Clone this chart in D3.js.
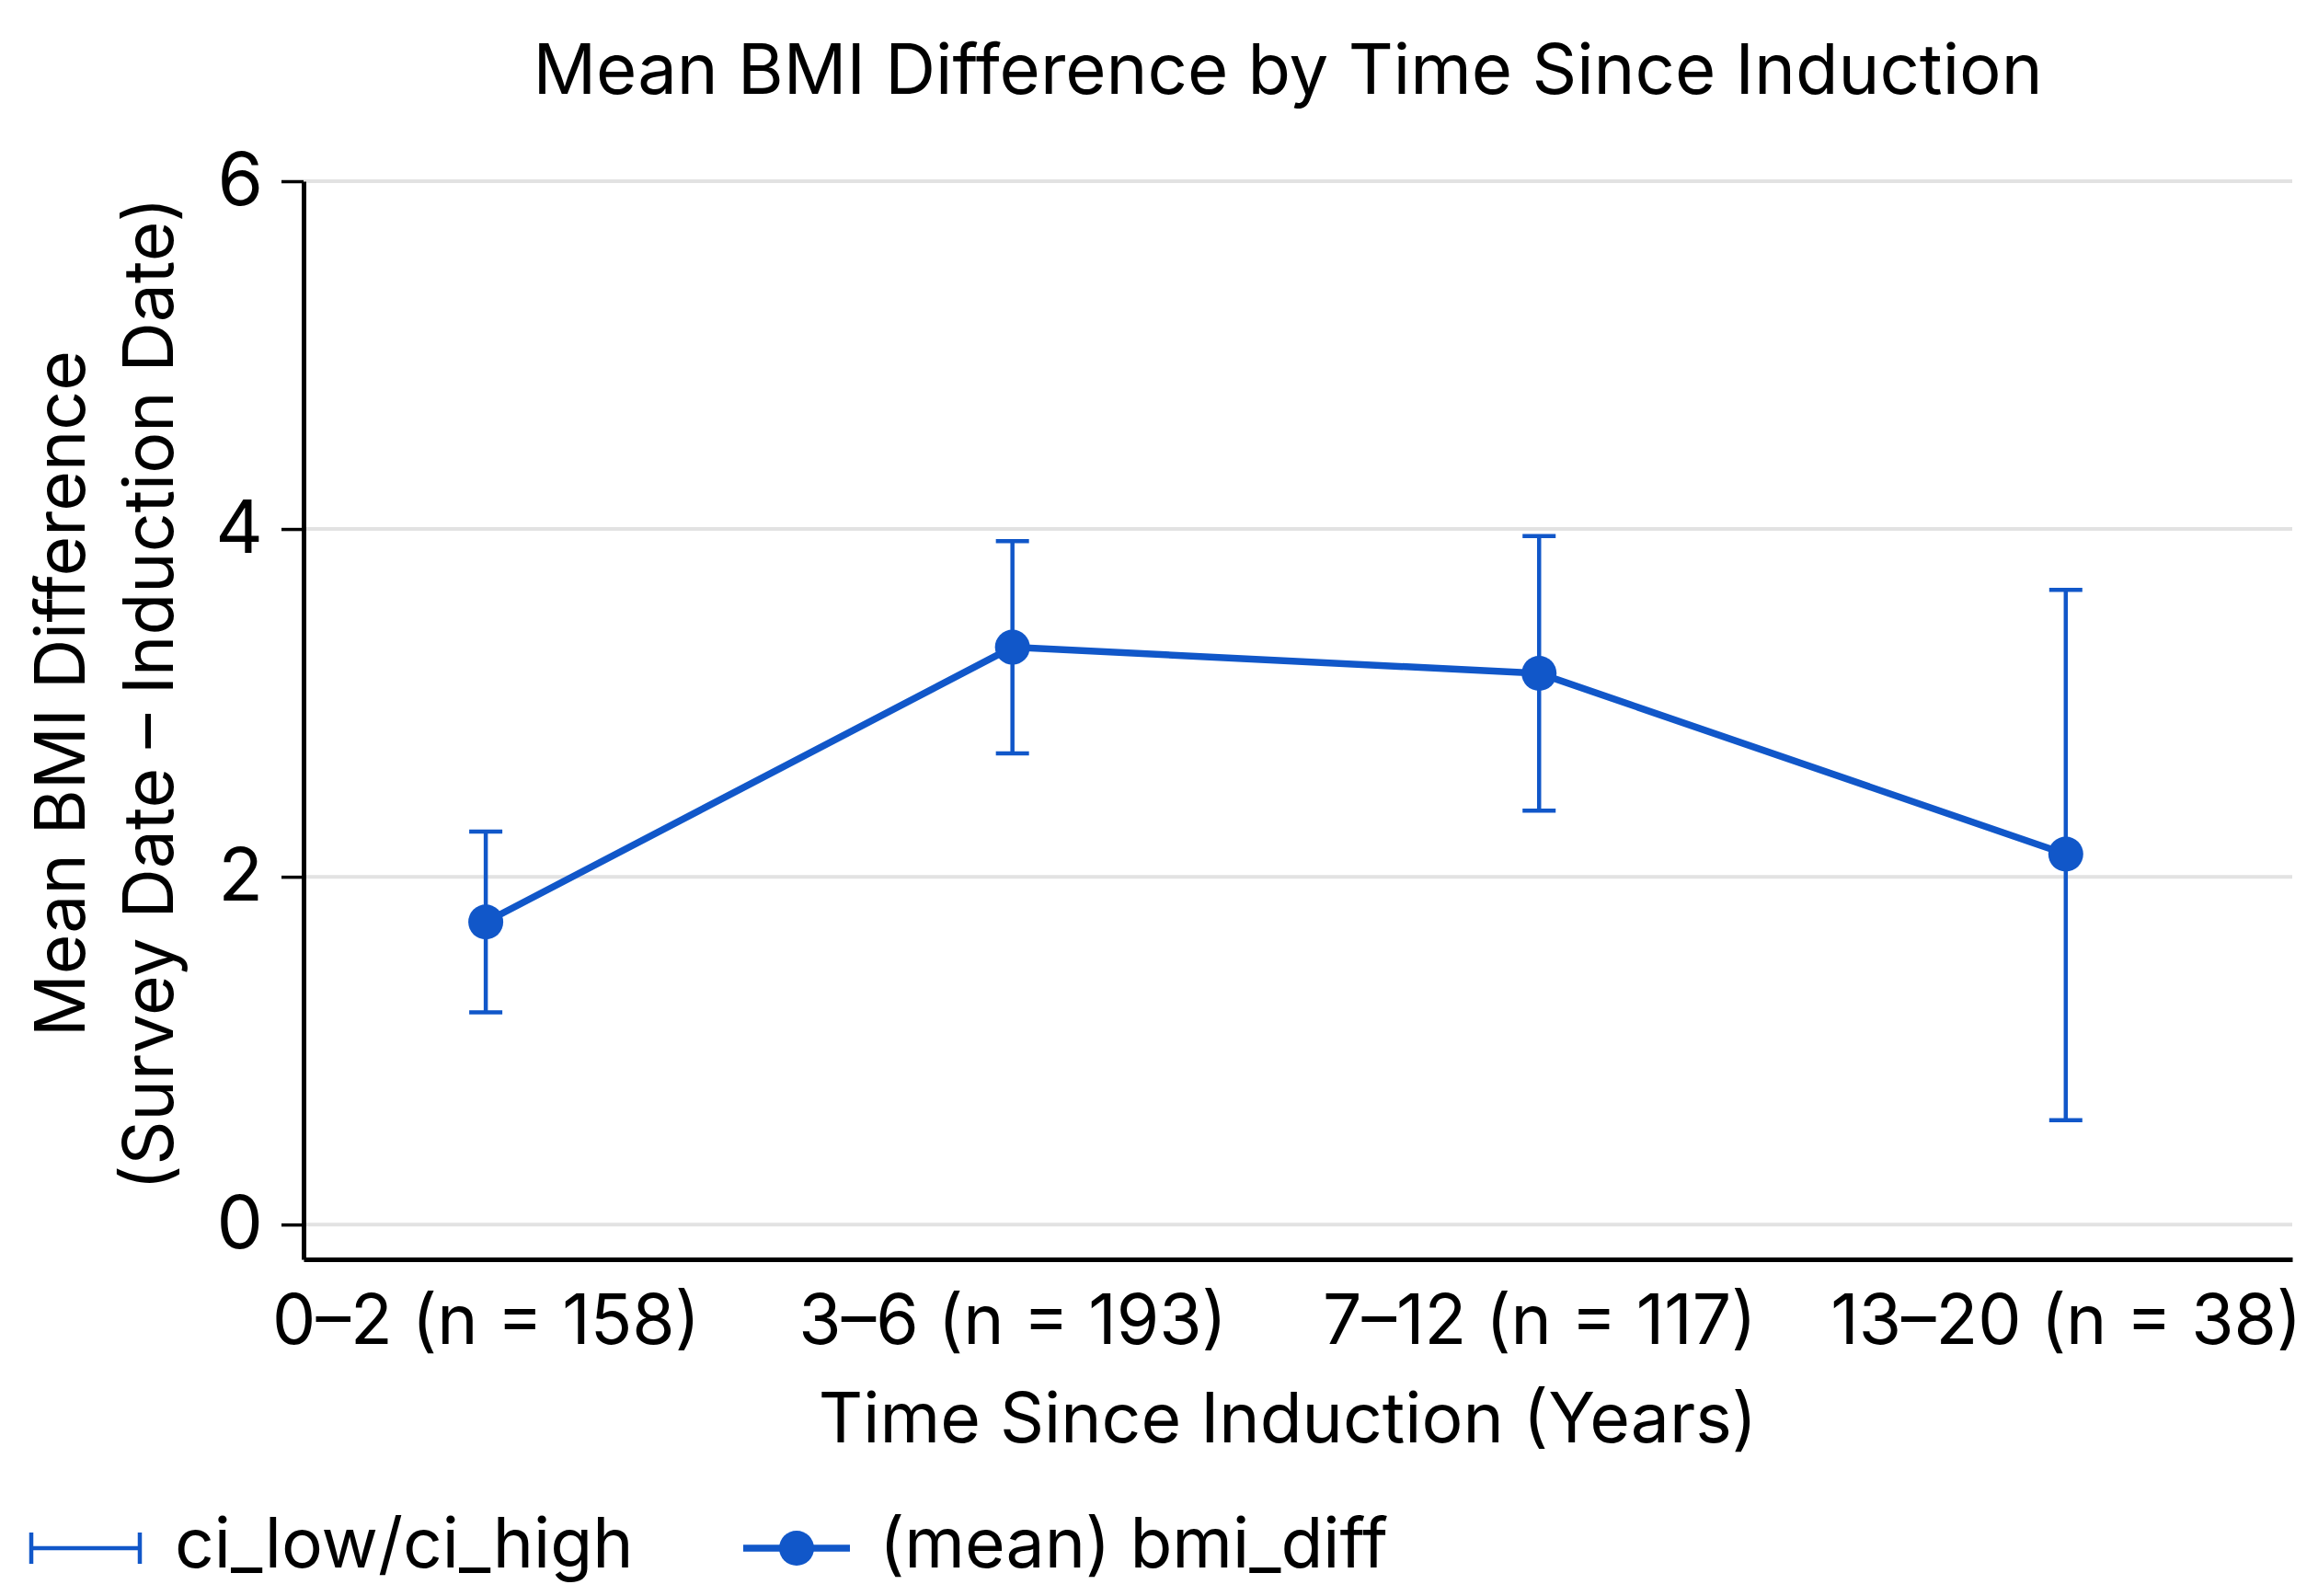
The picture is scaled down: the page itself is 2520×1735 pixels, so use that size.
<!DOCTYPE html>
<html>
<head>
<meta charset="utf-8">
<script src="https://cdn.jsdelivr.net/npm/d3@7"></script>
<style>
  body { margin: 0; background: #fff; }
  text { font-family: Inter, "Noto Sans", sans-serif; fill: #000; }
</style>
</head>
<body>
<div class="chart"></div>
<script>
const width = 2520;
const height = 1735;

// data
const categories = ["0–2 (n = 158)", "3–6 (n = 193)", "7–12 (n = 117)", "13–20 (n = 38)"];
const meanDiff = [1.74, 3.32, 3.17, 2.13];
const ciLow = [1.22, 2.71, 2.38, 0.60];
const ciHigh = [2.26, 3.93, 3.96, 3.65];
const yTicks = [0, 2, 4, 6];

const blue = "#1157c9";
const fontSize = 75;

const margin = {left: 330, right: 28, top: 197, bottom: 366};

const svg = d3.select(".chart")
    .append("svg")
    .attr("width", width)
    .attr("height", height);

const x = d3.scaleLinear()
    .domain([0.654, 4.43])
    .range([margin.left, width - margin.right]);

const y = d3.scaleLinear()
    .domain([-0.2, 6])
    .range([height - margin.bottom, margin.top]);

const points = categories.map((c, i) => ({cat: c, pos: i + 1, mean: meanDiff[i], lo: ciLow[i], hi: ciHigh[i]}));

// gridlines
svg.append("g")
    .selectAll("line")
    .data(yTicks)
    .enter()
    .append("line")
    .attr("x1", x.range()[0])
    .attr("x2", x.range()[1])
    .attr("y1", d => y(d))
    .attr("y2", d => y(d))
    .attr("stroke", "#e2e2e2")
    .attr("stroke-width", 4);

// y axis
const yAxis = svg.append("g")
    .attr("transform", `translate(${margin.left},0)`)
    .call(d3.axisLeft(y).tickValues(yTicks).tickFormat(d3.format("d"))
        .tickSize(24).tickPadding(20).tickSizeOuter(0));
yAxis.select(".domain").attr("stroke", "#000").attr("stroke-width", 5);
yAxis.selectAll(".tick line").attr("stroke", "#000").attr("stroke-width", 3.5);
yAxis.selectAll(".tick text")
    .attr("font-size", 80)
    .attr("font-family", "Inter, 'Noto Sans', sans-serif")
    .attr("fill", "#000");

// x axis
const xAxis = svg.append("g")
    .attr("transform", `translate(0,${height - margin.bottom})`)
    .call(d3.axisBottom(x)
        .tickValues(points.map(d => d.pos))
        .tickFormat((d, i) => categories[i])
        .tickSize(0).tickPadding(39).tickSizeOuter(0));
xAxis.select(".domain").attr("stroke", "#000").attr("stroke-width", 5);
xAxis.selectAll(".tick text")
    .attr("font-size", fontSize)
    .attr("font-family", "Inter, 'Noto Sans', sans-serif")
    .attr("fill", "#000");

// error bars
const ci = svg.append("g").attr("stroke", blue).attr("stroke-width", 4.5);
ci.selectAll(".whisker")
    .data(points)
    .enter()
    .append("line")
    .attr("x1", d => x(d.pos))
    .attr("x2", d => x(d.pos))
    .attr("y1", d => y(d.lo))
    .attr("y2", d => y(d.hi));
ci.selectAll(".capTop")
    .data(points)
    .enter()
    .append("line")
    .attr("x1", d => x(d.pos) - 18)
    .attr("x2", d => x(d.pos) + 18)
    .attr("y1", d => y(d.hi))
    .attr("y2", d => y(d.hi));
ci.selectAll(".capBottom")
    .data(points)
    .enter()
    .append("line")
    .attr("x1", d => x(d.pos) - 18)
    .attr("x2", d => x(d.pos) + 18)
    .attr("y1", d => y(d.lo))
    .attr("y2", d => y(d.lo));

// mean line + markers
const line = d3.line().x(d => x(d.pos)).y(d => y(d.mean));
svg.append("path")
    .datum(points)
    .attr("d", line)
    .attr("fill", "none")
    .attr("stroke", blue)
    .attr("stroke-width", 7.5);
svg.selectAll(".dot")
    .data(points)
    .enter()
    .append("circle")
    .attr("class", "dot")
    .attr("cx", d => x(d.pos))
    .attr("cy", d => y(d.mean))
    .attr("r", 19)
    .attr("fill", blue);

// titles
svg.append("text")
    .attr("x", 1400)
    .attr("y", 102)
    .attr("text-anchor", "middle")
    .attr("font-size", 76)
    .text("Mean BMI Difference by Time Since Induction");

svg.append("text")
    .attr("x", 1400)
    .attr("y", 1568)
    .attr("text-anchor", "middle")
    .attr("font-size", fontSize)
    .text("Time Since Induction (Years)");

const yTitle = svg.append("text")
    .attr("transform", "translate(0,754) rotate(-90)")
    .attr("text-anchor", "middle")
    .attr("font-size", fontSize);
yTitle.append("tspan").attr("x", 0).attr("y", 92).text("Mean BMI Difference");
yTitle.append("tspan").attr("x", 0).attr("y", 188).text("(Survey Date – Induction Date)");

// legend
const leg = svg.append("g").attr("transform", "translate(0,1683)");
leg.append("line").attr("x1", 34).attr("x2", 152).attr("y1", 0).attr("y2", 0)
    .attr("stroke", blue).attr("stroke-width", 4.5);
leg.append("line").attr("x1", 34).attr("x2", 34).attr("y1", -17).attr("y2", 17)
    .attr("stroke", blue).attr("stroke-width", 4.5);
leg.append("line").attr("x1", 152).attr("x2", 152).attr("y1", -17).attr("y2", 17)
    .attr("stroke", blue).attr("stroke-width", 4.5);
leg.append("text").attr("x", 190).attr("y", 0).attr("dy", "0.28em")
    .attr("font-size", fontSize).text("ci_low/ci_high");

leg.append("line").attr("x1", 808).attr("x2", 924).attr("y1", 0).attr("y2", 0)
    .attr("stroke", blue).attr("stroke-width", 7.5);
leg.append("circle").attr("cx", 866).attr("cy", 0).attr("r", 19).attr("fill", blue);
leg.append("text").attr("x", 956).attr("y", 0).attr("dy", "0.28em")
    .attr("font-size", fontSize).text("(mean) bmi_diff");
</script>
</body>
</html>
